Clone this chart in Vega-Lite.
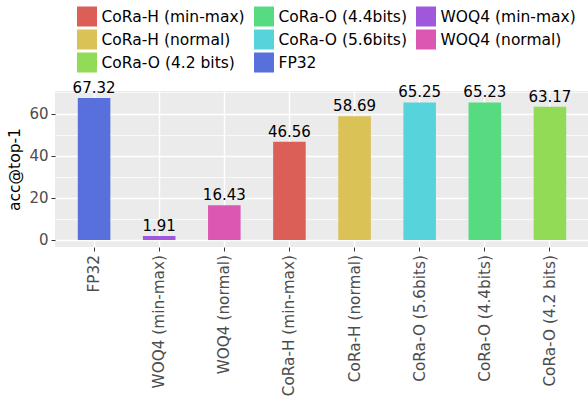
{
  "$schema": "https://vega.github.io/schema/vega-lite/v6.json",
  "width": 534,
  "height": 156,
  "autosize": {"type": "none"},
  "padding": {"left": 55, "top": 91, "right": 0, "bottom": 153},
  "background": "white",
  "config": {
    "view": {"fill": "#EBEBEB", "stroke": null},
    "font": "DejaVu Sans",
    "axis": {"domain": false, "gridColor": "white", "tickColor": "#333333", "tickSize": 4, "labelColor": "#4D4D4D", "labelFont": "DejaVu Sans", "titleFont": "DejaVu Sans", "titleFontWeight": "normal", "titleColor": "black"}
  },
  "data": {
    "values": [
      {"method": "FP32", "acc": 67.32},
      {"method": "WOQ4 (min-max)", "acc": 1.91},
      {"method": "WOQ4 (normal)", "acc": 16.43},
      {"method": "CoRa-H (min-max)", "acc": 46.56},
      {"method": "CoRa-H (normal)", "acc": 58.69},
      {"method": "CoRa-O (5.6bits)", "acc": 65.25},
      {"method": "CoRa-O (4.4bits)", "acc": 65.23},
      {"method": "CoRa-O (4.2 bits)", "acc": 63.17}
    ]
  },
  "encoding": {
    "x": {
      "field": "method", "type": "nominal", "sort": null, "title": null,
      "scale": {"paddingInner": 0.5, "paddingOuter": 0.35},
      "axis": {"labelAngle": -90, "labelFontSize": 15.3, "labelPadding": 3.5, "grid": true, "gridWidth": 1.4, "bandPosition": 0.5, "tickBand": "center"}
    },
    "y": {
      "field": "acc", "type": "quantitative", "title": "acc@top-1",
      "scale": {"domain": [-3.366, 70.686], "nice": false, "zero": false},
      "axis": {
        "values": [0, 10, 20, 30, 40, 50, 60, 70],
        "labelExpr": "datum.value % 20 === 0 ? datum.label : ''",
        "tickOpacity": {"condition": {"test": "datum.value % 20 === 0", "value": 1}, "value": 0},
        "gridWidth": {"condition": {"test": "datum.value % 20 === 0", "value": 1.4}, "value": 0.7},
        "labelFontSize": 15, "titleFontSize": 15.5, "labelPadding": 3, "titlePadding": 6
      }
    }
  },
  "layer": [
    {
      "mark": {"type": "bar"},
      "encoding": {
        "color": {
          "field": "method", "type": "nominal",
          "scale": {
            "domain": ["CoRa-H (min-max)", "CoRa-O (4.4bits)", "WOQ4 (min-max)", "CoRa-H (normal)", "CoRa-O (5.6bits)", "WOQ4 (normal)", "CoRa-O (4.2 bits)", "FP32"],
            "range": ["#db5f57", "#57db80", "#a157db", "#dbc257", "#57d3db", "#db57b2", "#91db57", "#5770db"]
          },
          "legend": {
            "title": null, "orient": "none", "legendX": 22, "legendY": -84.5,
            "direction": "horizontal", "columns": 3, "columnPadding": 9, "rowPadding": 3,
            "symbolType": "square", "symbolSize": 400, "symbolStrokeWidth": 0, "symbolOpacity": 1,
            "labelFontSize": 15.5, "labelFont": "DejaVu Sans", "labelColor": "black", "labelOffset": 4.5, "padding": 0, "labelLimit": 300
          }
        }
      }
    },
    {
      "mark": {"type": "text", "baseline": "bottom", "dy": -2, "fontSize": 15, "color": "black"},
      "encoding": {"text": {"field": "acc", "type": "quantitative", "format": ".2f"}}
    }
  ]
}
